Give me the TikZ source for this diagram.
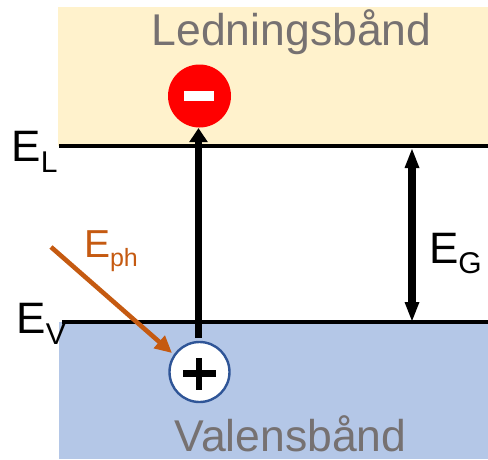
\documentclass[tikz,border=0pt]{standalone}
\usepackage{fontspec}
\setmainfont{Liberation Sans}
\usetikzlibrary{arrows.meta}
\definecolor{bandtop}{HTML}{FFF2CC}
\definecolor{bandlow}{HTML}{B4C7E7}
\definecolor{bandtxt}{HTML}{767171}
\definecolor{holeblue}{HTML}{2F5597}
\definecolor{photon}{HTML}{C55A11}
\tikzset{
  lbl/.style={inner sep=0pt,outer sep=0pt,anchor=base west,text=#1,font=\fontsize{44}{44}\selectfont},
  lbl/.default=black,
  bandname/.style={inner sep=0pt,outer sep=0pt,anchor=base,text=bandtxt,font=\fontsize{44.5}{44.5}\selectfont},
  level/.style={line width=4pt,black},
  bigarrow/.style={line width=6.8pt,black,-{Triangle[length=14pt,width=17.5pt]}},
  gapshaft/.style={line width=7.5pt,black},
  gaptip/.style={fill=black},
  photonarrow/.style={line width=4.6pt,photon,-{Triangle[length=17pt,width=16pt]}},
  charge/.style={circle,inner sep=0pt,minimum size=#1},
}
\newcommand{\sublbl}[2][30]{\raisebox{-11pt}{\fontsize{#1}{#1}\selectfont #2}}
\begin{document}
\begin{tikzpicture}[x=1pt,y=-1pt]
\useasboundingbox (0,0) rectangle (488,459);
\fill[bandtop] (58,7) rectangle (488,146);
\fill[bandlow] (59,322) rectangle (488,459);
\coordinate (ltop) at (59,146);
\coordinate (rtop) at (488,146);
\coordinate (lbot) at (62,322);
\coordinate (rbot) at (488,322);
\draw[level] (ltop) -- (rtop);
\draw[level] (lbot) -- (rbot);
\node[bandname] (cond) at (291.5,45) {Ledningsbånd};
\node[bandname] (val) at (290.5,451) {Valensbånd};
\node[charge=63pt,fill=red] (elec) at (199.5,96) {};
\fill[white] (183.5,91) rectangle (214,101);
\coordinate (astart) at (198.5,338);
\coordinate (aend) at (198.5,128);
\draw[bigarrow] (astart) -- (aend);
\node[charge=60pt,fill=white,draw=holeblue,line width=2.4pt] (hole) at (199.5,372) {};
\draw[line width=6.5pt] (183,373.5) -- (216,373.5) (199,358) -- (199,390);
\coordinate (gtop) at (412,149);
\coordinate (gbot) at (412,321);
\draw[gapshaft,shorten <=15pt,shorten >=15pt] (gbot) -- (gtop);
\fill[gaptip] (gtop) -- ++(7.5,19) -- ++(-15,0) -- cycle;
\fill[gaptip] (gbot) -- ++(7.5,-19) -- ++(-15,0) -- cycle;
\coordinate (pstart) at (51,247);
\coordinate (pend) at (172,353);
\draw[photonarrow] (pstart) -- (pend);
\node[lbl] (el) at (11.5,161) {E\sublbl{L}};
\node[lbl] (ev) at (16.5,333) {E\sublbl{V}};
\node[lbl=photon,font=\fontsize{39}{39}\selectfont] (eph) at (84,257) {E\raisebox{-9pt}{\fontsize{25}{25}\selectfont ph}};
\node[lbl] (eg) at (429,263) {E\raisebox{-10pt}{\fontsize{30}{30}\selectfont G}};
\end{tikzpicture}
\end{document}
